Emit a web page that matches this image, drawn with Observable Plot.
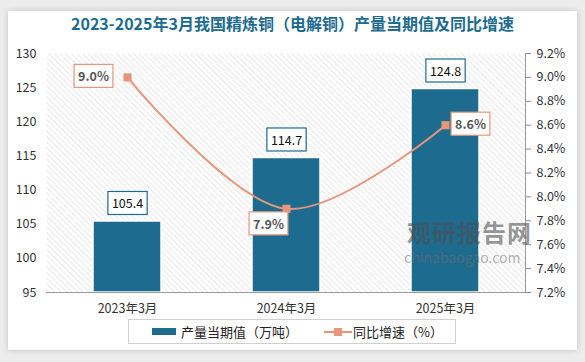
<!DOCTYPE html>
<html>
<head>
<meta charset="utf-8">
<script src="https://cdn.jsdelivr.net/npm/d3@7"></script>
<script src="https://cdn.jsdelivr.net/npm/@observablehq/plot@0.6"></script>
<style>
  html, body { margin: 0; padding: 0; }
  body { width: 585px; height: 362px; background: #ececec; position: relative; overflow: hidden;
         font-family: "Noto Sans CJK SC", "Noto Sans", sans-serif; }
  #card { position: absolute; left: 8px; top: 11px; width: 569px; height: 339px; background: #fff;
          box-shadow: 0 0 6px rgba(0,0,0,0.18); }
  #title { position: absolute; left: 0; top: 11px; width: 585px; text-align: center; font-size: 16px;
           font-weight: bold; color: #1d6b8f; }
  #chart { position: absolute; left: 0; top: 0; }
  #legend { position: absolute; left: 128px; top: 319px; width: 326px; height: 23px; border: 1px solid #d0d0d0;
            font-size: 13px; color: #222; display: flex; align-items: center; }
  .wm1 { position: absolute; left: 407px; top: 219px; height: 26px; font-size: 24px; line-height: 26px; font-weight: bold; color: rgba(80,80,80,0.6); letter-spacing: 1px; }
  .wm2 { position: absolute; left: 404px; top: 250px; height: 15px; font-size: 14px; line-height: 15px; color: rgba(110,110,110,0.55); }
</style>
</head>
<body>
<div id="card"></div>
<div id="chart"></div>
<div id="title">2023-2025年3月我国精炼铜（电解铜）产量当期值及同比增速</div>
<div class="wm1">观研报告网</div>
<div class="wm2">chinabaogao.com</div>
<div id="legend">
  <span style="display:inline-block;width:24px;height:7px;background:#1d6b8f;margin-left:23px;margin-right:5px"></span>
  <span>产量当期值（万吨）</span>
  <svg width="28" height="10" style="margin-left:26px;margin-right:1px"><line x1="0" y1="5" x2="28" y2="5" stroke="#e8967a" stroke-width="2"/><rect x="10" y="1" width="8" height="8" fill="#e8967a"/></svg>
  <span>同比增速（%）</span>
</div>
<script>
const categories = ["2023年3月", "2024年3月", "2025年3月"];
const output = [105.4, 114.7, 124.8];
const growth = [9.0, 7.9, 8.6];
const leftTicks = [95, 100, 105, 110, 115, 120, 125, 130];
const rightTicks = [7.2, 7.4, 7.6, 7.8, 8.0, 8.2, 8.4, 8.6, 8.8, 9.0, 9.2];

const leftDomain = [95, 130];
const rightDomain = [7.2, 9.2];
const toLeft = p => leftDomain[0] + (p - rightDomain[0]) / (rightDomain[1] - rightDomain[0]) * (leftDomain[1] - leftDomain[0]);

const data = categories.map((c, i) => ({cat: c, value: output[i], pct: growth[i], py: toLeft(growth[i])}));

const barColor = "#1d6b8f";
const lineColor = "#e8967a";

const chart = Plot.plot({
  width: 585,
  height: 322,
  marginLeft: 46,
  marginRight: 60,
  marginTop: 53,
  marginBottom: 30,
  style: {fontFamily: "'Noto Sans CJK SC', 'Noto Sans', sans-serif", fontSize: "12px", color: "#333", background: "transparent", overflow: "visible"},
  x: {domain: categories, paddingInner: 0.575, paddingOuter: 0.2875},
  y: {domain: leftDomain},
  marks: [
    Plot.frame({fill: "url(#hatch)", stroke: null}),
    Plot.axisY({ticks: leftTicks, tickSize: 0, tickPadding: 10, label: null, fontSize: 12.5}),
    Plot.axisY({anchor: "right", ticks: rightTicks.map(toLeft), tickFormat: (d) => {
      const p = rightDomain[0] + (d - leftDomain[0]) / (leftDomain[1] - leftDomain[0]) * (rightDomain[1] - rightDomain[0]);
      return p.toFixed(1) + "%";
    }, tickSize: 5, tickPadding: 6, label: null, stroke: "#888", fontSize: 12.5}),
    Plot.axisX({tickSize: 0, tickPadding: 12, label: null, fontSize: 12.5}),
    Plot.frame({anchor: "right", stroke: "#999"}),
    Plot.barY(data, {x: "cat", y1: leftDomain[0], y2: "value", fill: barColor, stroke: "#fff", strokeWidth: 1.5}),
    Plot.ruleY([leftDomain[0]], {stroke: "#999"}),
    Plot.line(data, {x: "cat", y: "py", stroke: lineColor, strokeWidth: 2, curve: "catmull-rom"}),
    Plot.dot(data, {x: "cat", y: "py", symbol: "square", r: 4.6, fill: lineColor, stroke: null}),
    Plot.text(data, {x: "cat", y: "value", text: d => d.value.toFixed(1), dy: -17, className: "barlab", fill: "#111", fontSize: 12.5}),
    Plot.text(data.slice(0, 1), {x: "cat", y: "py", text: d => d.pct.toFixed(1) + "%", dx: -34, className: "pctlab", fill: "#555", fontWeight: "bold", fontSize: 12.5}),
    Plot.text(data.slice(1, 2), {x: "cat", y: "py", text: d => d.pct.toFixed(1) + "%", dx: -18, dy: 16, className: "pctlab", fill: "#555", fontWeight: "bold", fontSize: 12.5}),
    Plot.text(data.slice(2, 3), {x: "cat", y: "py", text: d => d.pct.toFixed(1) + "%", dx: 25, className: "pctlab", fill: "#555", fontWeight: "bold", fontSize: 12.5})
  ]
});

// hatch pattern for plot background
const ns = "http://www.w3.org/2000/svg";
const defs = document.createElementNS(ns, "defs");
defs.innerHTML = '<pattern id="hatch" patternUnits="userSpaceOnUse" width="4" height="4" patternTransform="rotate(-45)"><rect width="4" height="4" fill="#fff"/><line x1="0" y1="0" x2="0" y2="4" stroke="#d9d9d9" stroke-width="1.2"/></pattern>';
chart.insertBefore(defs, chart.firstChild);

document.getElementById("chart").appendChild(chart);

// boxes around labels
function boxLabels(cls, color) {
  chart.querySelectorAll("." + cls + " text").forEach(t => {
    const b = t.getBBox();
    const r = document.createElementNS(ns, "rect");
    r.setAttribute("x", b.x - 4);
    r.setAttribute("y", b.y - 2);
    r.setAttribute("width", b.width + 8);
    r.setAttribute("height", b.height + 4);
    r.setAttribute("fill", "#fff");
    r.setAttribute("stroke", color);
    r.setAttribute("stroke-width", 1.2);
    if (t.getAttribute("transform")) r.setAttribute("transform", t.getAttribute("transform"));
    t.parentNode.insertBefore(r, t);
  });
}
boxLabels("barlab", barColor);
boxLabels("pctlab", lineColor);
</script>
</body>
</html>
